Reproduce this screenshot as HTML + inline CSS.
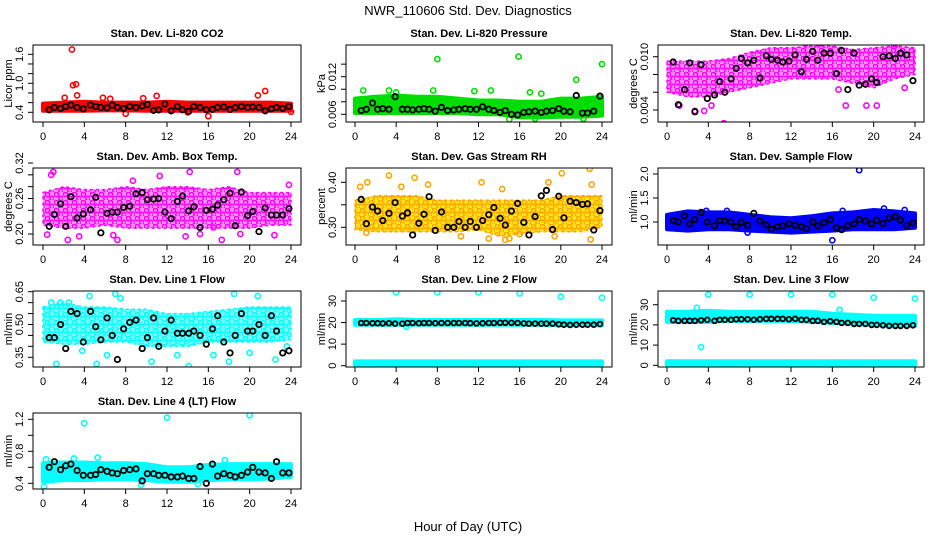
<!DOCTYPE html>
<html><head><meta charset="utf-8">
<style>
html,body{margin:0;padding:0;background:#fff;}
svg{display:block;font-family:"Liberation Sans",Arial,sans-serif;}
</style></head>
<body>
<svg id="chart" width="936" height="540" viewBox="0 0 936 540" xmlns="http://www.w3.org/2000/svg">
<rect x="0" y="0" width="936" height="540" fill="#fff"/>
<text x="468" y="15" text-anchor="middle" font-size="13">NWR_110606  Std. Dev. Diagnostics</text>
<text x="468" y="531" text-anchor="middle" font-size="13">Hour of Day (UTC)</text>
</svg>
<script>
// ---------- data ----------
const bandHours = [0,2,4,6,8,10,12,14,16,18,20,22,24];
const blackHours = [0.6,1.1,1.7,2.2,2.7,3.3,3.9,4.6,5.1,5.6,6.2,6.7,7.2,7.8,8.4,9,9.6,10.1,10.7,11.2,11.8,12.4,13,13.5,14.1,14.6,15.2,15.8,16.4,16.9,17.5,18.1,18.6,19.2,19.8,20.3,20.9,21.5,22.1,22.6,23.2,23.8];
const xTicks = [0,4,8,12,16,20,24];

// Panel 1: CO2
const co2Lo = [0.43,0.43,0.43,0.44,0.44,0.43,0.43,0.43,0.43,0.43,0.43,0.43,0.43];
const co2Hi = [0.58,0.6,0.62,0.6,0.6,0.6,0.62,0.6,0.6,0.6,0.6,0.6,0.58];
const co2OutX = [2.8,2.9,3.2,3.3,2.1,5.8,8,9.7,11,16,20.8,21.5,24,14,6.5];
const co2OutY = [1.7,0.96,0.98,0.75,0.7,0.7,0.37,0.69,0.74,0.32,0.75,0.84,0.41,0.4,0.68];
const co2Black = [0.45,0.5,0.48,0.52,0.55,0.5,0.47,0.55,0.52,0.5,0.49,0.55,0.5,0.48,0.52,0.5,0.53,0.56,0.44,0.45,0.57,0.43,0.52,0.45,0.42,0.52,0.5,0.45,0.46,0.5,0.51,0.46,0.5,0.52,0.5,0.51,0.5,0.43,0.47,0.5,0.48,0.52];
const co2Ticks = [0.4,0.6,0.8,1.0,1.2,1.4,1.6];
const co2Labels = ["0.4","1.0","1.6"];

// Panel 2: Pressure
const presLo = [0.0062,0.0062,0.0062,0.0062,0.0062,0.0062,0.006,0.006,0.0055,0.0055,0.0056,0.0056,0.0058];
const presHi = [0.0085,0.0088,0.009,0.0088,0.0088,0.0085,0.0082,0.0082,0.008,0.008,0.0085,0.0085,0.0088];
const presOutX = [8,15.9,24,21.5,3.3,7.6,13.2,0.8,17,11.6,18.1,4,15,17.5,22.2];
const presOutY = [0.0148,0.0152,0.014,0.0115,0.0098,0.0098,0.0098,0.0098,0.0095,0.0097,0.0093,0.0095,0.0052,0.0053,0.0053];
const presBlack = [0.0066,0.0068,0.0078,0.0068,0.0069,0.0068,0.0088,0.0068,0.0068,0.0067,0.0068,0.0069,0.0068,0.0065,0.0071,0.0066,0.0067,0.0068,0.0069,0.0068,0.0068,0.0072,0.0068,0.0066,0.0063,0.0066,0.006,0.0059,0.0063,0.0064,0.0065,0.0063,0.0065,0.0066,0.0069,0.0065,0.0064,0.009,0.0062,0.0062,0.0065,0.0089];
const presTicks = [0.006,0.008,0.010,0.012,0.014];
const presLabels = ["0.006","0.012"];

// Panel 3: Li-820 Temp
const tempLo = [0.006,0.0055,0.0055,0.006,0.0065,0.007,0.0075,0.0075,0.0075,0.007,0.0065,0.0075,0.008];
const tempHi = [0.0095,0.0095,0.0095,0.0098,0.0105,0.011,0.011,0.0112,0.0112,0.0108,0.011,0.0112,0.011];
const tempOutX = [5.5,2.7,3.6,17.3,19.3,20.3,1.2,4.3,23,16.6,13.4,14.8,22];
const tempOutY = [0.0025,0.0039,0.0039,0.0045,0.0045,0.0045,0.0045,0.0045,0.0065,0.0063,0.0115,0.0115,0.0112];
const tempBlack = [0.0094,0.0046,0.0063,0.0093,0.0038,0.0091,0.0053,0.0057,0.0072,0.006,0.0075,0.0087,0.0098,0.0093,0.0096,0.0076,0.0101,0.0097,0.0096,0.0094,0.0095,0.0102,0.0083,0.0097,0.0106,0.0096,0.0104,0.0104,0.0081,0.0107,0.0063,0.0104,0.0068,0.0069,0.0075,0.0071,0.01,0.0101,0.0098,0.0104,0.0102,0.0073];
const tempTicks = [0.004,0.006,0.008,0.010];
const tempLabels = ["0.004","0.010"];

// Panel 4: Amb. Box Temp
const boxLo = [0.215,0.21,0.21,0.215,0.21,0.21,0.21,0.21,0.21,0.21,0.21,0.215,0.215];
const boxHi = [0.27,0.28,0.275,0.275,0.28,0.275,0.28,0.28,0.275,0.28,0.27,0.27,0.27];
const boxOutX = [0.4,1,0.8,2.4,3.5,6.1,7.2,6.8,13.8,15.2,16.5,17.3,18.8,19.1,22.4,23.8,11.3,14.2,8.7];
const boxOutY = [0.199,0.305,0.3,0.19,0.196,0.322,0.19,0.198,0.196,0.2,0.211,0.19,0.305,0.2,0.198,0.283,0.298,0.305,0.29];
const boxBlack = [0.213,0.233,0.251,0.213,0.263,0.227,0.234,0.241,0.262,0.202,0.235,0.237,0.237,0.245,0.247,0.268,0.27,0.258,0.259,0.26,0.237,0.226,0.255,0.264,0.239,0.246,0.211,0.24,0.242,0.249,0.258,0.269,0.214,0.271,0.231,0.238,0.204,0.244,0.232,0.232,0.232,0.243];
const boxTicks = [0.20,0.22,0.24,0.26,0.28,0.30,0.32];
const boxLabels = ["0.20","0.26","0.32"];

// Panel 5: Gas Stream RH
const rhLo = [0.295,0.29,0.29,0.29,0.29,0.29,0.295,0.28,0.285,0.29,0.29,0.29,0.3];
const rhHi = [0.36,0.37,0.37,0.37,0.36,0.36,0.36,0.36,0.36,0.36,0.37,0.37,0.37];
const rhOutX = [0.5,1.2,3.3,5.8,7.1,12.3,14.3,18.8,20.1,22.8,23,13,14.6,15,16,19.4,22.9,4.5,10.3,1.1];
const rhOutY = [0.39,0.4,0.415,0.41,0.395,0.4,0.385,0.4,0.42,0.43,0.395,0.275,0.272,0.275,0.285,0.28,0.273,0.39,0.28,0.288];
const rhBlack = [0.362,0.308,0.345,0.336,0.315,0.331,0.355,0.325,0.332,0.283,0.309,0.329,0.368,0.293,0.334,0.3,0.3,0.313,0.3,0.313,0.3,0.315,0.328,0.344,0.32,0.305,0.336,0.353,0.311,0.283,0.324,0.37,0.382,0.295,0.369,0.321,0.358,0.355,0.351,0.352,0.294,0.337];
const rhTicks = [0.30,0.35,0.40];
const rhLabels = ["0.30","0.40"];

// Panel 6: Sample Flow
const sfLo = [0.85,0.82,0.85,0.85,0.82,0.8,0.78,0.8,0.82,0.85,0.85,0.85,0.88];
const sfHi = [1.15,1.22,1.2,1.2,1.15,1.1,1.08,1.12,1.18,1.2,1.25,1.22,1.18];
const sfOutX = [18.6,16,21,7.8,3.8,5.8,17,23];
const sfOutY = [2.08,0.62,1.28,0.78,1.23,1.23,1.23,1.25];
const sfBlack = [1.03,1.0,1.13,0.96,1.05,1.2,1.0,0.92,1.03,1.02,1.0,0.9,0.99,0.93,1.18,1.02,0.94,0.85,0.9,0.92,0.96,0.93,0.9,0.86,1.0,0.92,0.98,1.05,0.88,0.84,0.92,0.96,1.05,1.02,0.96,1.04,0.97,1.08,1.11,1.04,0.92,0.98];
const sfTicks = [1.0,1.5,2.0];
const sfLabels = ["1.0","1.5","2.0"];

// Panel 7: Line 1 Flow
const l1Lo = [0.42,0.41,0.41,0.42,0.42,0.4,0.4,0.4,0.42,0.42,0.42,0.42,0.43];
const l1Hi = [0.58,0.6,0.58,0.58,0.57,0.57,0.55,0.55,0.56,0.57,0.58,0.58,0.58];
const l1OutX = [0.8,1.7,2.5,4.5,7,7.5,18.5,20.8,1.3,5.2,10.5,14.1,18,22.5,6.2,13,16.5,23.6,3.8,20];
const l1OutY = [0.6,0.6,0.6,0.63,0.64,0.62,0.64,0.63,0.32,0.32,0.33,0.31,0.33,0.34,0.36,0.36,0.36,0.4,0.38,0.37];
const l1Black = [0.44,0.44,0.5,0.39,0.56,0.55,0.42,0.56,0.49,0.43,0.53,0.45,0.34,0.48,0.51,0.52,0.39,0.44,0.53,0.4,0.47,0.52,0.46,0.46,0.46,0.47,0.45,0.41,0.48,0.54,0.42,0.37,0.45,0.55,0.47,0.47,0.5,0.45,0.54,0.47,0.37,0.38];
const l1Ticks = [0.35,0.40,0.45,0.50,0.55,0.60,0.65];
const l1Labels = ["0.35","0.50","0.65"];

// Panel 8: Line 2 Flow
const l2Lo = [19,19,19,19,19,19,19,19,19,19,18.8,18.8,18.8];
const l2Hi = [21.2,21.2,21.5,21.2,21.2,21.2,21.2,21.2,21.2,21.2,21,21,21];
const l2BaseLo = [0,0,0,0,0,0,0,0,0,0,0,0,0];
const l2BaseHi = [2,2,2,2,2,2,2,2,2,2,2,2,2];
const l2OutX = [4,8,12,16,20,24,5];
const l2OutY = [34,34,34,33.5,32,31.5,18];
const l2Black = [19.8,19.8,19.7,19.7,19.6,19.7,19.5,19.5,19.8,19.8,19.7,19.8,19.8,19.7,19.8,19.8,19.8,19.8,19.8,19.7,19.6,19.7,19.8,19.8,19.9,19.9,19.9,19.8,19.6,19.5,19.5,19.5,19.5,19.5,19.2,19.0,18.9,19.0,19.0,19.0,19.0,19.3];
const l2Ticks = [0,10,20,30];
const l2Labels = ["0","10","20","30"];

// Panel 9: Line 3 Flow
const l3Lo = [21.5,21.5,21.5,22,22,22,22,21.5,21,20.5,20,19.5,19.5];
const l3Hi = [26.5,26.5,27,26.5,26.5,26.5,26.5,26.5,25.5,25,24.5,24.5,24.5];
const l3BaseLo = [0,0,0,0,0,0,0,0,0,0,0,0,0];
const l3BaseHi = [2,2,2,2,2,2,2,2,2,2,2,2,2];
const l3OutX = [3.3,4,8,12,16,20,24,2.9,16.7];
const l3OutY = [9,35,35,35,35,33.5,33,28.5,27.5];
const l3Black = [22.3,22,22,22,22,22.3,22.5,22,22.5,22.5,22.5,22.8,22.8,22.8,22.5,22.8,23,23,23,23,22.8,23,22.5,22.5,22,22,21.5,21.8,21.5,21,21,20.5,20.5,20.5,20,20,19.8,19.5,19.5,19.5,19.5,19.8];
const l3Ticks = [0,10,20,30];
const l3Labels = ["0","10","20","30"];

// Panel 10: Line 4 (LT) Flow
const l4Lo = [0.42,0.44,0.44,0.45,0.45,0.44,0.42,0.42,0.44,0.45,0.45,0.46,0.48];
const l4Hi = [0.65,0.66,0.66,0.65,0.65,0.64,0.6,0.6,0.63,0.64,0.64,0.64,0.64];
const l4OutX = [4,12,20,0.3,5.3,0.1,9.5,17.6,3,15];
const l4OutY = [1.15,1.22,1.25,0.7,0.72,0.36,0.38,0.69,0.71,0.39];
const l4Black = [0.6,0.67,0.57,0.62,0.64,0.56,0.5,0.5,0.51,0.57,0.55,0.53,0.52,0.56,0.57,0.58,0.43,0.52,0.52,0.5,0.5,0.48,0.48,0.49,0.46,0.46,0.61,0.4,0.64,0.49,0.52,0.5,0.48,0.5,0.54,0.6,0.54,0.53,0.46,0.67,0.53,0.53];
const l4Ticks = [0.4,0.6,0.8,1.0,1.2];
const l4Labels = ["0.4","0.8","1.2"];

// ---------- layout (not data) ----------
const cols = [{left:33,right:301,x0:43,x24:291},{left:346,right:612,x0:355,x24:602},{left:658,right:924,x0:667,x24:915}];
const rows = [{top:45,bottom:122},{top:168,bottom:245},{top:291,bottom:367},{top:413,bottom:489}];

const panels = [
 {id:'co2',col:0,row:0,title:'Stan. Dev. Li-820 CO2',ylab:'Licor ppm',color:'#ff0000',band:'#ff0000',map:[0.4,112.3,1.6,54.3],lo:co2Lo,hi:co2Hi,ox:co2OutX,oy:co2OutY,bk:co2Black,ticks:co2Ticks,labels:co2Labels},
 {id:'pressure',col:1,row:0,title:'Stan. Dev. Li-820 Pressure',ylab:'kPa',color:'#00dd00',band:'#00dd00',map:[0.006,114.3,0.012,76.7],lo:presLo,hi:presHi,ox:presOutX,oy:presOutY,bk:presBlack,ticks:presTicks,labels:presLabels},
 {id:'li820-temp',col:2,row:0,title:'Stan. Dev. Li-820 Temp.',ylab:'degrees C',color:'#ff00ff',band:'#ff33ff',map:[0.004,110,0.010,56.7],lo:tempLo,hi:tempHi,ox:tempOutX,oy:tempOutY,bk:tempBlack,ticks:tempTicks,labels:tempLabels,sparse:true},
 {id:'box-temp',col:0,row:1,title:'Stan. Dev. Amb. Box Temp.',ylab:'degrees C',color:'#ff00ff',band:'#ff33ff',map:[0.20,234,0.32,163],lo:boxLo,hi:boxHi,ox:boxOutX,oy:boxOutY,bk:boxBlack,ticks:boxTicks,labels:boxLabels,sparse:true},
 {id:'rh',col:1,row:1,title:'Stan. Dev. Gas Stream RH',ylab:'percent',color:'#ffa500',band:'#f7b500',map:[0.30,227.3,0.40,182.3],lo:rhLo,hi:rhHi,ox:rhOutX,oy:rhOutY,bk:rhBlack,ticks:rhTicks,labels:rhLabels,sparse:true},
 {id:'sample-flow',col:2,row:1,title:'Stan. Dev. Sample Flow',ylab:'ml/min',color:'#0000ff',band:'#0000ff',map:[1.0,222,2.0,174],lo:sfLo,hi:sfHi,ox:sfOutX,oy:sfOutY,bk:sfBlack,ticks:sfTicks,labels:sfLabels},
 {id:'line1-flow',col:0,row:2,title:'Stan. Dev. Line 1 Flow',ylab:'ml/min',color:'#00ffff',band:'#00ffff',map:[0.35,357.3,0.65,291.7],lo:l1Lo,hi:l1Hi,ox:l1OutX,oy:l1OutY,bk:l1Black,ticks:l1Ticks,labels:l1Labels,sparse:true},
 {id:'line2-flow',col:1,row:2,title:'Stan. Dev. Line 2 Flow',ylab:'ml/min',color:'#00ffff',band:'#00ffff',map:[0,365.7,30,301],lo:l2Lo,hi:l2Hi,lo2:l2BaseLo,hi2:l2BaseHi,ox:l2OutX,oy:l2OutY,bk:l2Black,ticks:l2Ticks,labels:l2Labels,small:true},
 {id:'line3-flow',col:2,row:2,title:'Stan. Dev. Line 3 Flow',ylab:'ml/min',color:'#00ffff',band:'#00ffff',map:[0,365.3,30,304.7],lo:l3Lo,hi:l3Hi,lo2:l3BaseLo,hi2:l3BaseHi,ox:l3OutX,oy:l3OutY,bk:l3Black,ticks:l3Ticks,labels:l3Labels,small:true},
 {id:'line4-flow',col:0,row:3,title:'Stan. Dev. Line 4 (LT) Flow',ylab:'ml/min',color:'#00ffff',band:'#00ffff',map:[0.4,483.3,1.2,419.3],lo:l4Lo,hi:l4Hi,ox:l4OutX,oy:l4OutY,bk:l4Black,ticks:l4Ticks,labels:l4Labels}
];

const NS = 'http://www.w3.org/2000/svg';
const svg = document.getElementById('chart');
const defs = document.createElementNS(NS, 'defs');
svg.appendChild(defs);
function mk(tag, attrs, parent){
  const e = document.createElementNS(NS, tag);
  for (const k in attrs) e.setAttribute(k, attrs[k]);
  (parent||svg).appendChild(e);
  return e;
}

panels.forEach(p => {
  const c = cols[p.col], r = rows[p.row];
  const xs = h => c.x0 + (c.x24 - c.x0) * h / 24;
  const ys = v => p.map[1] + (v - p.map[0]) * (p.map[3] - p.map[1]) / (p.map[2] - p.map[0]);
  const g = mk('g', {});
  
  
  const clipId = 'clip-' + p.id;
  const cp = mk('clipPath', {id: clipId}, g);
  mk('rect', {x:c.left, y:r.top, width:c.right-c.left, height:r.bottom-r.top}, cp);
  const plot = mk('g', {'clip-path':'url(#'+clipId+')'}, g);
  
  

  let fill = p.band;
  if (p.sparse) {
    const pid = 'pat-' + p.id;
    const pat = mk('pattern', {id: pid, width: 9, height: 8, patternUnits: 'userSpaceOnUse'}, defs);
    mk('rect', {x:0, y:0, width:9, height:8, fill: p.id === 'rh' ? '#ffe000' : p.band, opacity: p.id === 'rh' ? 0.9 : 0.55}, pat);
    mk('circle', {cx:2.5, cy:2.5, r:2.2, fill:'none', stroke:p.color, 'stroke-width':1.6}, pat);
    mk('circle', {cx:7, cy:6.5, r:2.2, fill:'none', stroke:p.color, 'stroke-width':1.6}, pat);
    fill = 'url(#' + pid + ')';
  }

  function band(lo, hi, name, f){
    let d = '';
    bandHours.forEach((h,i) => { d += (i ? 'L' : 'M') + xs(h).toFixed(1) + ',' + ys(hi[i]).toFixed(1); });
    for (let i = bandHours.length - 1; i >= 0; i--) d += 'L' + xs(bandHours[i]).toFixed(1) + ',' + ys(lo[i]).toFixed(1);
    const b = mk('path', {d: d + 'Z', fill: f, stroke: p.color, 'stroke-width': p.sparse ? 1.5 : 4, 'stroke-dasharray': p.sparse ? '3 3' : 'none', 'stroke-linejoin': 'round'}, plot);
    
    
  }
  band(p.lo, p.hi, p.id + '-dense-band', fill);
  if (p.lo2) band(p.lo2, p.hi2, p.id + '-baseline-band', p.band);

  p.ox.forEach((h,i) => {
    const pt = mk('circle', {cx: xs(h), cy: ys(p.oy[i]), r: 2.6, fill: 'none', stroke: p.color, 'stroke-width': 1.6}, plot);
    
    
  });
  const n = Math.min(blackHours.length, p.bk.length);
  for (let i = 0; i < n; i++) {
    const pt = mk('circle', {cx: xs(blackHours[i]), cy: ys(p.bk[i]), r: p.small ? 2.4 : 2.7, fill: 'none', stroke: '#000', 'stroke-width': 1.8}, plot);
    
    
  }

  const box = mk('rect', {x:c.left, y:r.top, width:c.right-c.left, height:r.bottom-r.top, fill:'none', stroke:'#000', 'stroke-width':1}, g);
  
  

  const ttl = mk('text', {x:(c.left+c.right)/2, y:r.top-8, 'text-anchor':'middle', 'font-size':11, 'font-weight':'bold'}, g);
  ttl.textContent = p.title;
  
  

  xTicks.forEach(t => {
    mk('line', {x1:xs(t), x2:xs(t), y1:r.bottom, y2:r.bottom+5, stroke:'#000'}, g);
    const tl = mk('text', {x:xs(t), y:r.bottom+18, 'text-anchor':'middle', 'font-size':11}, g);
    tl.textContent = String(t);
    
    
  });

  p.ticks.forEach(t => {
    const y = ys(t);
    mk('line', {x1:c.left-5, x2:c.left, y1:y, y2:y, stroke:'#000'}, g);
  });
  p.labels.forEach(lab => {
    const y = ys(parseFloat(lab));
    const tl = mk('text', {x:0, y:0, transform:'translate(' + (c.left-10) + ',' + y.toFixed(1) + ') rotate(-90)', 'text-anchor':'middle', 'font-size':11}, g);
    tl.textContent = lab;
    
    
  });
  const yl = mk('text', {x:0, y:0, transform:'translate(' + (c.left-21) + ',' + ((r.top+r.bottom)/2).toFixed(1) + ') rotate(-90)', 'text-anchor':'middle', 'font-size':11}, g);
  yl.textContent = p.ylab;
  
  
});
</script>
</body></html>
